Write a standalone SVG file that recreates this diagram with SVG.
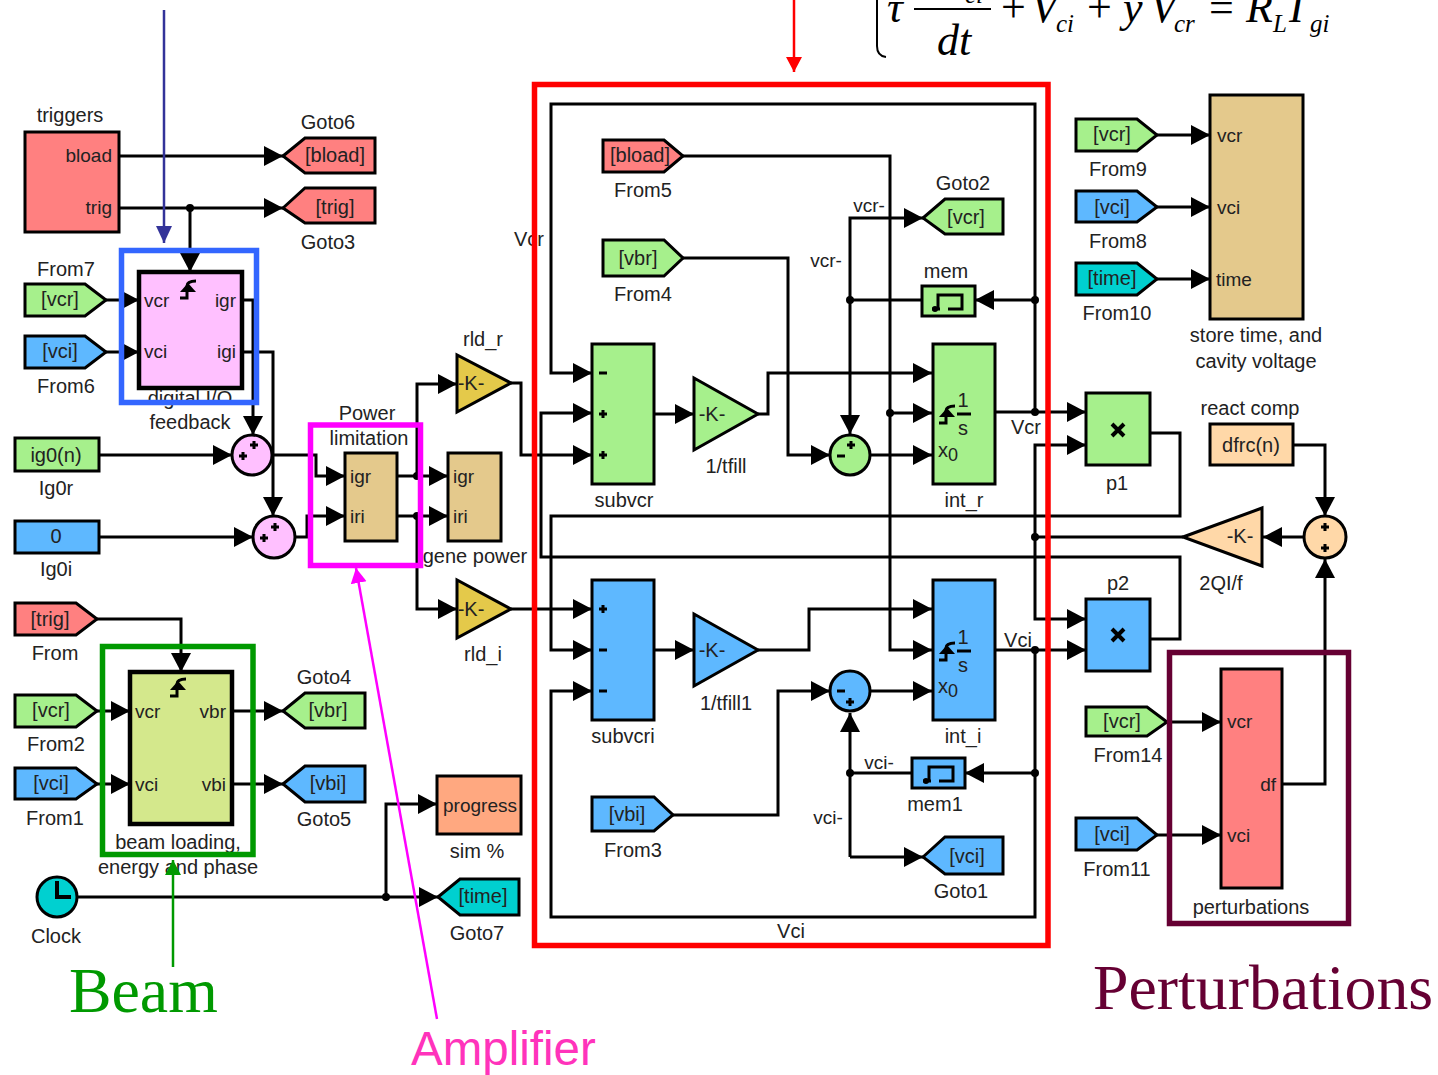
<svg xmlns="http://www.w3.org/2000/svg" xmlns:xlink="http://www.w3.org/1999/xlink" width="1438" height="1075" viewBox="0 0 1438 1075">
<style>
text{font-family:"Liberation Sans",Arial,sans-serif;font-size:20px;fill:#222;text-anchor:middle}
.l{text-anchor:start}.r{text-anchor:end}.p{font-size:19px}
.b{stroke:#000;stroke-width:3;stroke-linejoin:miter}
.th{stroke-width:4.5}
.red{fill:#ff8080}.grn{fill:#a6f08c}.blu{fill:#5eb8ff}.tan{fill:#e4c98c}.pnk{fill:#ffc0ff}.yel{fill:#e4c94a}.org{fill:#ffd8a8}.cya{fill:#00d0d0}.lim{fill:#d4e88c}.sal{fill:#ffa880}
.c{fill:none;stroke:#000;stroke-width:3;stroke-linejoin:miter}
.a{marker-end:url(#ah)}
.box{fill:none;stroke-width:5.5}
.sg{fill:none;stroke:#000;stroke-width:3}
.ic{fill:none;stroke:#000;stroke-width:3}
.eq{font-family:"Liberation Serif","Times New Roman",serif;font-style:italic;font-size:44px;fill:#000;text-anchor:start}
.eqs{font-size:25px}
.eqn{font-style:normal}
.big{font-family:"Liberation Serif","Times New Roman",serif;font-size:63.8px}
</style>
<defs>
<marker id="ah" markerUnits="userSpaceOnUse" markerWidth="20" markerHeight="22" refX="19" refY="10" orient="auto"><path d="M0,0L19,10L0,20Z" fill="#000"/></marker>
<marker id="ab" markerUnits="userSpaceOnUse" markerWidth="18" markerHeight="20" refX="17" refY="8" orient="auto"><path d="M0,0L17,8L0,16Z" fill="#333399"/></marker>
<marker id="ar" markerUnits="userSpaceOnUse" markerWidth="18" markerHeight="20" refX="15" refY="8" orient="auto"><path d="M0,0L15,8L0,16Z" fill="#ff0000"/></marker>
<marker id="ag" markerUnits="userSpaceOnUse" markerWidth="18" markerHeight="20" refX="15" refY="8" orient="auto"><path d="M0,0L15,8L0,16Z" fill="#009900"/></marker>
<marker id="am" markerUnits="userSpaceOnUse" markerWidth="18" markerHeight="20" refX="15" refY="8" orient="auto"><path d="M0,0L15,8L0,16Z" fill="#ff00ff"/></marker>
<path id="plus" class="sg" d="M-4,0H4M0,-4V4"/>
<path id="minus" class="sg" d="M-4,0H4"/>
<g id="trg"><path class="ic" d="M-8,9H-1V-3Q-1,-8 8,-8"/><path d="M-8,3L8,3L0,-6Z" fill="#000"/></g>
<g id="memi"><path class="ic" d="M-12,8V-6H12V8H-2M-18,8H-10"/><circle cx="-15" cy="8" r="3" fill="#000"/></g>
<path id="mult" fill="none" stroke="#000" stroke-width="4" d="M-6,-6L6,6M6,-6L-6,6"/>
</defs>

<g id="connectors">
<path class="c a" d="M119,156H283"/>
<path class="c a" d="M119,208H283"/>
<path class="c a" d="M190,208V272"/>
<path class="c a" d="M106,300H139"/>
<path class="c a" d="M106,352H139"/>
<path class="c a" d="M242,300H253V435"/>
<path class="c a" d="M242,352H273V516"/>
<path class="c a" d="M99,455H232"/>
<path class="c a" d="M99,537H253"/>
<path class="c a" d="M273,455H316V476H345"/>
<path class="c a" d="M295,537H307V516H345"/>
<path class="c a" d="M397,476H448"/>
<path class="c a" d="M397,516H448"/>
<path class="c a" d="M417,476V384H457"/>
<path class="c a" d="M417,516V609H457"/>
<path class="c a" d="M511,383H521V455H592"/>
<path class="c a" d="M511,609H592"/>
<path class="c a" d="M1035,412V104H551V373H592"/>
<path class="c a" d="M1035,650V917H551V691H592"/>
<path class="c a" d="M1150,433H1180V516H551V650H592"/>
<path class="c a" d="M1150,639H1180V557H541V413H592"/>
<path class="c a" d="M1183,537H1035V445H1086"/>
<path class="c a" d="M1035,537V619H1086"/>
<path class="c a" d="M683,156H890V650H932"/>
<path class="c a" d="M890,413H932"/>
<path class="c a" d="M683,258H788V455H830"/>
<path class="c a" d="M654,414H694"/>
<path class="c a" d="M758,414H768V373H932"/>
<path class="c a" d="M871,455H932"/>
<path class="c a" d="M850,300V434"/>
<path class="c a" d="M850,300V218H923"/>
<path class="c" d="M850,300H922"/>
<path class="c a" d="M1035,300H975"/>
<path class="c a" d="M995,412H1086"/>
<path class="c a" d="M654,650H694"/>
<path class="c a" d="M758,650H809V609H932"/>
<path class="c a" d="M871,691H932"/>
<path class="c a" d="M673,815H778V691H830"/>
<path class="c a" d="M850,857V713"/>
<path class="c" d="M850,773H912"/>
<path class="c a" d="M1035,773H965"/>
<path class="c a" d="M850,857H923"/>
<path class="c a" d="M995,650H1086"/>
<path class="c a" d="M1157,135H1210"/>
<path class="c a" d="M1157,207H1210"/>
<path class="c a" d="M1157,279H1210"/>
<path class="c a" d="M1293,445H1325V516"/>
<path class="c a" d="M1282,784H1325V559"/>
<path class="c a" d="M1304,537H1263"/>
<path class="c a" d="M1167,722H1221"/>
<path class="c a" d="M1157,835H1221"/>
<path class="c a" d="M97,619H181V672"/>
<path class="c a" d="M97,711H130"/>
<path class="c a" d="M97,784H130"/>
<path class="c a" d="M232,711H283"/>
<path class="c a" d="M232,784H283"/>
<path class="c a" d="M77,897H438"/>
<path class="c a" d="M386,897V804H437"/>
<g fill="#000">
<circle cx="190" cy="208" r="4"/><circle cx="417" cy="476" r="4"/><circle cx="417" cy="516" r="4"/>
<circle cx="850" cy="300" r="4"/><circle cx="1035" cy="300" r="4"/><circle cx="1035" cy="412" r="4"/>
<circle cx="890" cy="413" r="4"/><circle cx="1035" cy="537" r="4"/><circle cx="1035" cy="650" r="4"/>
<circle cx="850" cy="773" r="4"/><circle cx="1035" cy="773" r="4"/><circle cx="386" cy="897" r="4"/>
</g>
</g>

<g id="triggers"><rect class="b red" x="25" y="132" width="94" height="100"/><text x="70" y="122">triggers</text><text class="r p" x="112" y="162">bload</text><text class="r p" x="112" y="214">trig</text></g>
<g id="goto6"><path class="b red" d="M283,156L305,138H375V173H305Z"/><text x="335" y="162">[bload]</text><text x="328" y="129">Goto6</text></g>
<g id="goto3"><path class="b red" d="M283,208L305,188H375V223H305Z"/><text x="335" y="214">[trig]</text><text x="328" y="249">Goto3</text></g>
<g id="from7"><path class="b grn" d="M25,284H85L106,300L85,316H25Z"/><text x="60" y="306">[vcr]</text><text x="66" y="276">From7</text></g>
<g id="from6"><path class="b blu" d="M25,336H85L106,352L85,368H25Z"/><text x="60" y="358">[vci]</text><text x="66" y="393">From6</text></g>
<g id="digital-io"><rect class="b th pnk" x="139" y="272" width="103" height="116"/><use xlink:href="#trg" href="#trg" x="188" y="289"/><text class="l p" x="144" y="307">vcr</text><text class="l p" x="144" y="358">vci</text><text class="r p" x="236" y="307">igr</text><text class="r p" x="236" y="358">igi</text><text x="190" y="405">digital I/O</text><text x="190" y="429">feedback</text></g>
<g id="ig0r"><rect class="b grn" x="15" y="438" width="84" height="33"/><text x="56" y="462">ig0(n)</text><text x="56" y="495">Ig0r</text></g>
<g id="ig0i"><rect class="b blu" x="15" y="521" width="84" height="32"/><text x="56" y="543">0</text><text x="56" y="576">Ig0i</text></g>
<g id="sum1"><circle class="b pnk" cx="252" cy="455" r="20"/><use xlink:href="#plus" href="#plus" x="254" y="445"/><use xlink:href="#plus" href="#plus" x="243" y="456"/></g>
<g id="sum2"><circle class="b pnk" cx="274" cy="537" r="21"/><use xlink:href="#plus" href="#plus" x="275" y="527"/><use xlink:href="#plus" href="#plus" x="264" y="538"/></g>
<g id="power-limitation"><rect class="b tan" x="345" y="453" width="52" height="88"/><text x="367" y="420">Power</text><text x="369" y="445">limitation</text><text class="l p" x="350" y="483">igr</text><text class="l p" x="350" y="523">iri</text></g>
<g id="gene-power"><rect class="b tan" x="448" y="453" width="53" height="88"/><text class="l p" x="453" y="483">igr</text><text class="l p" x="453" y="523">iri</text><text x="475" y="563">gene power</text></g>
<g id="rld_r"><path class="b yel" d="M457,355V412L511,383Z"/><text x="471" y="390">-K-</text><text x="483" y="346">rld_r</text></g>
<g id="rld_i"><path class="b yel" d="M457,580V638L511,609Z"/><text x="471" y="616">-K-</text><text x="483" y="661">rld_i</text></g>

<g id="from5"><path class="b red" d="M603,140H664L683,156L664,172H603Z"/><text x="640" y="162">[bload]</text><text x="643" y="197">From5</text></g>
<g id="from4"><path class="b grn" d="M603,240H664L683,258L664,276H603Z"/><text x="638" y="265">[vbr]</text><text x="643" y="301">From4</text></g>
<g id="goto2"><path class="b grn" d="M923,218L945,199H1003V234H945Z"/><text x="966" y="224">[vcr]</text><text x="963" y="190">Goto2</text></g>
<g id="mem"><rect class="b grn" x="922" y="286" width="53" height="30"/><use xlink:href="#memi" href="#memi" x="950" y="301"/><text x="946" y="278">mem</text></g>
<g id="subvcr"><rect class="b grn" x="592" y="344" width="62" height="140"/><use xlink:href="#minus" href="#minus" x="603" y="373"/><use xlink:href="#plus" href="#plus" x="603" y="414"/><use xlink:href="#plus" href="#plus" x="603" y="455"/><text x="624" y="507">subvcr</text></g>
<g id="tfill"><path class="b grn" d="M694,378V450L758,414Z"/><text x="712" y="421">-K-</text><text x="726" y="473">1/tfill</text></g>
<g id="sum-r"><circle class="b grn" cx="850" cy="455" r="20"/><use xlink:href="#plus" href="#plus" x="851" y="445"/><use xlink:href="#minus" href="#minus" x="841" y="456"/></g>
<g id="int_r"><rect class="b grn" x="933" y="344" width="62" height="140"/><use xlink:href="#trg" href="#trg" x="947" y="414"/><text x="963" y="407">1</text><path class="ic" d="M957,414H971"/><text x="963" y="435">s</text><text class="l" x="938" y="457">x<tspan font-size="18" dy="4">0</tspan></text><text x="964" y="507">int_r</text></g>
<text x="869" y="212" class="p">vcr-</text>
<text x="826" y="267" class="p">vcr-</text>
<text x="529" y="246">Vcr</text>
<text x="1026" y="434">Vcr</text>
<g id="subvcri"><rect class="b blu" x="592" y="580" width="62" height="140"/><use xlink:href="#plus" href="#plus" x="603" y="609"/><use xlink:href="#minus" href="#minus" x="603" y="650"/><use xlink:href="#minus" href="#minus" x="603" y="691"/><text x="623" y="743">subvcri</text></g>
<g id="tfill1"><path class="b blu" d="M694,614V686L758,650Z"/><text x="712" y="657">-K-</text><text x="726" y="710">1/tfill1</text></g>
<g id="sum-i"><circle class="b blu" cx="850" cy="691" r="20"/><use xlink:href="#minus" href="#minus" x="841" y="691"/><use xlink:href="#plus" href="#plus" x="850" y="702"/></g>
<g id="int_i"><rect class="b blu" x="933" y="580" width="62" height="140"/><use xlink:href="#trg" href="#trg" x="947" y="651"/><text x="963" y="644">1</text><path class="ic" d="M957,651H971"/><text x="963" y="672">s</text><text class="l" x="938" y="693">x<tspan font-size="18" dy="4">0</tspan></text><text x="963" y="743">int_i</text></g>
<g id="from3"><path class="b blu" d="M592,797H654L673,815L654,831H592Z"/><text x="627" y="821">[vbi]</text><text x="633" y="857">From3</text></g>
<g id="mem1"><rect class="b blu" x="912" y="758" width="53" height="30"/><use xlink:href="#memi" href="#memi" x="941" y="773"/><text x="935" y="811">mem1</text></g>
<g id="goto1"><path class="b blu" d="M923,857L945,837H1003V874H945Z"/><text x="967" y="863">[vci]</text><text x="961" y="898">Goto1</text></g>
<text x="879" y="769" class="p">vci-</text>
<text x="828" y="824" class="p">vci-</text>
<text x="1018" y="647">Vci</text>
<text x="791" y="938">Vci</text>

<g id="from9"><path class="b grn" d="M1076,119H1137L1157,135L1137,151H1076Z"/><text x="1112" y="141">[vcr]</text><text x="1118" y="176">From9</text></g>
<g id="from8"><path class="b blu" d="M1076,191H1137L1157,207L1137,222H1076Z"/><text x="1112" y="214">[vci]</text><text x="1118" y="248">From8</text></g>
<g id="from10"><path class="b cya" d="M1076,263H1137L1157,279L1137,295H1076Z"/><text x="1112" y="285">[time]</text><text x="1117" y="320">From10</text></g>
<g id="store"><rect class="b tan" x="1210" y="95" width="93" height="224"/><text class="l p" x="1217" y="142">vcr</text><text class="l p" x="1217" y="214">vci</text><text class="l p" x="1216" y="286">time</text><text x="1256" y="342">store time, and</text><text x="1256" y="368">cavity voltage</text></g>
<g id="p1"><rect class="b grn" x="1086" y="393" width="64" height="72"/><use xlink:href="#mult" href="#mult" x="1118" y="430"/><text x="1117" y="490">p1</text></g>
<g id="p2"><rect class="b blu" x="1086" y="599" width="64" height="72"/><use xlink:href="#mult" href="#mult" x="1118" y="635"/><text x="1118" y="590">p2</text></g>
<g id="dfrc"><rect class="b org" x="1210" y="424" width="83" height="41"/><text x="1251" y="452">dfrc(n)</text><text x="1250" y="415">react comp</text></g>
<g id="gain-2qi"><path class="b org" d="M1183,537L1262,508V566Z"/><text x="1240" y="543">-K-</text><text x="1221" y="590">2QI/f</text></g>
<g id="sum3"><circle class="b org" cx="1325" cy="537" r="21"/><use xlink:href="#plus" href="#plus" x="1325" y="527"/><use xlink:href="#plus" href="#plus" x="1325" y="548"/></g>
<g id="from14"><path class="b grn" d="M1086,707H1147L1167,722L1147,736H1086Z"/><text x="1122" y="728">[vcr]</text><text x="1128" y="762">From14</text></g>
<g id="from11"><path class="b blu" d="M1076,818H1137L1157,835L1137,850H1076Z"/><text x="1112" y="841">[vci]</text><text x="1117" y="876">From11</text></g>
<g id="perturbations"><rect class="b red" x="1221" y="669" width="61" height="219"/><text class="l p" x="1227" y="728">vcr</text><text class="l p" x="1227" y="842">vci</text><text class="r p" x="1276" y="791">df</text><text x="1251" y="914">perturbations</text></g>

<g id="from"><path class="b red" d="M15,603H76L97,619L76,635H15Z"/><text x="50" y="626">[trig]</text><text x="55" y="660">From</text></g>
<g id="from2"><path class="b grn" d="M15,695H76L97,711L76,727H15Z"/><text x="51" y="717">[vcr]</text><text x="56" y="751">From2</text></g>
<g id="from1"><path class="b blu" d="M15,768H76L97,784L76,799H15Z"/><text x="51" y="790">[vci]</text><text x="55" y="825">From1</text></g>
<g id="beam"><rect class="b th lim" x="130" y="672" width="102" height="152"/><use xlink:href="#trg" href="#trg" x="178" y="687"/><text class="l p" x="135" y="718">vcr</text><text class="l p" x="135" y="791">vci</text><text class="r p" x="226" y="718">vbr</text><text class="r p" x="226" y="791">vbi</text><text x="178" y="849">beam loading,</text><text x="178" y="874">energy and phase</text></g>
<g id="goto4"><path class="b grn" d="M283,711L305,693H365V728H305Z"/><text x="328" y="717">[vbr]</text><text x="324" y="684">Goto4</text></g>
<g id="goto5"><path class="b blu" d="M283,784L305,766H365V802H305Z"/><text x="328" y="790">[vbi]</text><text x="324" y="826">Goto5</text></g>
<g id="clock"><circle class="b cya" cx="57" cy="897" r="20"/><path fill="none" stroke="#000" stroke-width="4" d="M57,881V897H71"/><text x="56" y="943">Clock</text></g>
<g id="sim"><rect class="b sal" x="437" y="776" width="84" height="58"/><text x="480" y="812" class="p">progress</text><text x="477" y="858">sim %</text></g>
<g id="goto7"><path class="b cya" d="M438,897L460,879H519V915H460Z"/><text x="483" y="903">[time]</text><text x="477" y="940">Goto7</text></g>

<g id="annotations">
<rect class="box" x="121.5" y="250.5" width="135" height="152" stroke="#3366ff"/>
<rect class="box" x="310.5" y="425" width="110" height="140.5" stroke="#ff00ff"/>
<rect class="box" x="102.5" y="646.5" width="150.5" height="208" stroke="#009900"/>
<rect class="box" x="534.5" y="84.5" width="513.5" height="861" stroke="#ff0000"/>
<rect class="box" x="1169.5" y="652.5" width="179" height="271" stroke="#660033"/>
<path d="M164,10V243" fill="none" stroke="#333399" stroke-width="2.5" marker-end="url(#ab)"/>
<path d="M794,0V72" fill="none" stroke="#ff0000" stroke-width="2.5" marker-end="url(#ar)"/>
<path d="M173,967V860" fill="none" stroke="#009900" stroke-width="2.5" marker-end="url(#ag)"/>
<path d="M437,1019L356,568" fill="none" stroke="#ff00ff" stroke-width="2.5" marker-end="url(#am)"/>
<text class="big l" x="69" y="1012" style="fill:#009900">Beam</text>
<text class="big l" x="1093" y="1009" style="fill:#660033">Perturbations</text>
<text class="l" x="411" y="1065" style="font-size:47.5px;fill:#ff33bb">Amplifier</text>
</g>

<g id="equation">
<path d="M877,0V46Q877,56 886,57" fill="none" stroke="#000" stroke-width="2"/>
<text class="eq" x="887" y="22">τ</text>
<path d="M914,9H991" stroke="#000" stroke-width="2"/>
<text class="eq eqs" x="965" y="3">ci</text>
<text class="eq" x="937" y="55">dt</text>
<text class="eq eqn" x="1001" y="22">+</text>
<text class="eq" x="1031" y="22">V</text>
<text class="eq eqs" x="1056" y="32">ci</text>
<text class="eq eqn" x="1087" y="22">+</text>
<text class="eq" x="1123" y="22">y</text>
<text class="eq" x="1150" y="22">V</text>
<text class="eq eqs" x="1174" y="32">cr</text>
<text class="eq eqn" x="1209" y="22">=</text>
<text class="eq" x="1246" y="22">R</text>
<text class="eq eqs" x="1273" y="32">L</text>
<text class="eq" x="1289" y="22">I</text>
<text class="eq eqs" x="1310" y="32">gi</text>
</g>
</svg>
